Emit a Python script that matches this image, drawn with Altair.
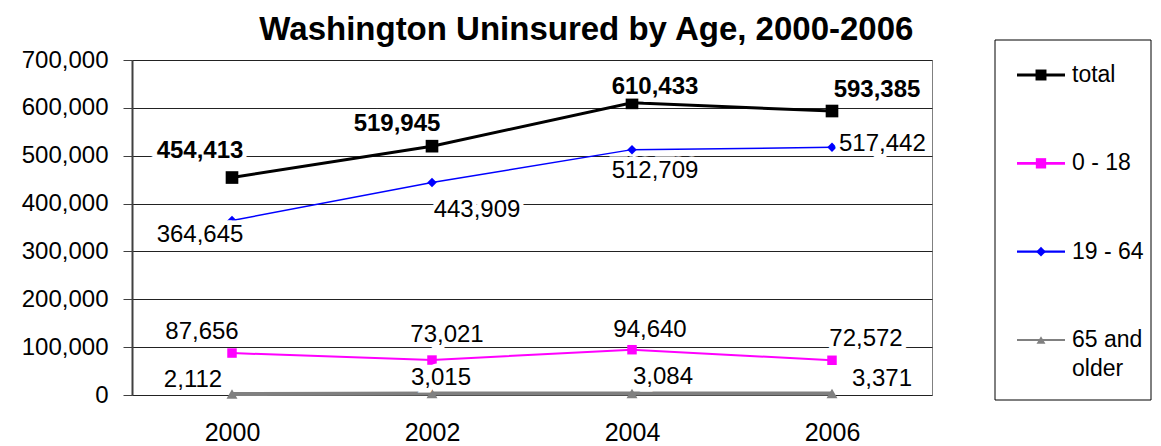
import altair as alt
import pandas as pd

years = [2000, 2002, 2004, 2006]
total = [454413, 519945, 610433, 593385]
age_0_18 = [87656, 73021, 94640, 72572]
age_19_64 = [364645, 443909, 512709, 517442]
age_65_up = [2112, 3015, 3084, 3371]

series_names = ["total", "0 - 18", "19 - 64", "65 and older"]
legend_labels = ["total", "0 - 18", "19 - 64", "65 and\nolder"]
series_values = [total, age_0_18, age_19_64, age_65_up]

colors = ["#000000", "#FF00FF", "#0000FF", "#808080"]
widths = [3, 2, 1.5, 4]
shapes = ["square", "square", "diamond", "triangle-up"]
sizes = [160, 90, 90, 120]
bold = ["bold", "normal", "normal", "normal"]

# label offsets (dx, dy) in pixels relative to each point, per series
label_offsets = [
    [(-32, -27), (-35, -22), (23, -16), (45, -21)],
    [(-30, -21), (15, -25), (18, -20), (34, -21)],
    [(-32, 15), (45, 27), (23, 21), (7, -3)],
    [(-39, -14), (9, -16), (31, -17), (50, -14)],
]

FONT = "Liberation Sans"

rows = []
for name, vals in zip(series_names, series_values):
    for y, v in zip(years, vals):
        rows.append({"series": name, "year": y, "value": v, "label": f"{v:,}"})
df = pd.DataFrame(rows)

x_enc = alt.X(
    "year:O",
    scale=alt.Scale(type="point", padding=0.5),
    axis=alt.Axis(title=None, labelAngle=0, labelFontSize=25, labelFont=FONT,
                  labelColor="#000", labelPadding=25, ticks=False, domain=False, grid=False),
)
y_enc = alt.Y(
    "value:Q",
    scale=alt.Scale(domain=[0, 700000], nice=False),
    axis=alt.Axis(title=None, values=[0, 100000, 200000, 300000, 400000, 500000, 600000, 700000],
                  format=",.0f", labelFontSize=24, labelFont=FONT, labelColor="#000",
                  tickSize=9, tickColor="#404040", labelPadding=15,
                  grid=True, gridColor="#222", gridWidth=1,
                  domainColor="#404040", domainWidth=2),
)

layers = []
for i, name in enumerate(series_names):
    sub = alt.Chart(df).transform_filter(alt.datum.series == name)
    layers.append(sub.mark_line(color=colors[i], strokeWidth=widths[i]).encode(x=x_enc, y=y_enc))
for i, name in enumerate(series_names):
    sub = alt.Chart(df).transform_filter(alt.datum.series == name)
    layers.append(sub.mark_point(filled=True, opacity=1, color=colors[i], shape=shapes[i],
                                 size=sizes[i]).encode(x=x_enc, y=y_enc))

for i, name in enumerate(series_names):
    for j, yr in enumerate(years):
        dx, dy = label_offsets[i][j]
        align = "left" if (i == 2 and j == 3) else "center"
        sub = alt.Chart(df).transform_filter(
            (alt.datum.series == name) & (alt.datum.year == yr))
        layers.append(sub.mark_text(dx=dx, dy=dy, align=align, baseline="middle", fontSize=24,
                                    font=FONT, fontWeight=bold[i], stroke="white",
                                    strokeWidth=9, strokeJoin="miter", fill="white")
                      .encode(x=x_enc, y=y_enc, text="label:N"))
        layers.append(sub.mark_text(dx=dx, dy=dy, align=align, baseline="middle", fontSize=24,
                                    font=FONT, fontWeight=bold[i], color="#000")
                      .encode(x=x_enc, y=y_enc, text="label:N"))

main = alt.layer(*layers)

# legend
leg_df = pd.DataFrame({"series": series_names, "label": legend_labels})
leg_y = alt.Y("series:N", sort=series_names,
              scale=alt.Scale(type="point", domain=series_names, range=[15, 280], padding=0),
              axis=None)
leg_color = alt.Color("series:N", scale=alt.Scale(domain=series_names, range=colors), legend=None)
leg_width = alt.StrokeWidth("series:N", scale=alt.Scale(domain=series_names, range=[3, 2, 1.5, 3]),
                            legend=None)
leg_shape = alt.Shape("series:N", scale=alt.Scale(domain=series_names, range=shapes), legend=None)
leg_size = alt.Size("series:N", scale=alt.Scale(domain=series_names, range=[120, 80, 80, 90]),
                    legend=None)

box = alt.Chart(pd.DataFrame({"a": [0]})).mark_rect(fill="white", stroke="#000", strokeWidth=1).encode(
    x=alt.value(863), x2=alt.value(1019), y=alt.value(-20), y2=alt.value(340))
leg_lines = alt.Chart(leg_df).mark_rule().encode(
    x=alt.value(885), x2=alt.value(933), y=leg_y, color=leg_color, strokeWidth=leg_width)
leg_pts = alt.Chart(leg_df).mark_point(filled=True, opacity=1).encode(
    x=alt.value(909), y=leg_y, color=leg_color, shape=leg_shape, size=leg_size)
leg_text = alt.Chart(leg_df).mark_text(align="left", baseline="middle", fontSize=23, font=FONT,
                                       color="#000", lineBreak="\n", lineHeight=29).encode(
    x=alt.value(940), y=leg_y, text="label:N")
legend = alt.layer(box, leg_lines, leg_pts, leg_text)

chart = alt.layer(main, legend).resolve_scale(y="independent", color="independent").properties(
    width=800, height=335,
    title=alt.TitleParams("Washington Uninsured by Age, 2000-2006", fontSize=33, font=FONT,
                          fontWeight="bold", anchor="middle", frame="bounds", offset=-7,
                          color="#000"),
    autosize=alt.AutoSizeParams(type="none"),
    padding={"left": 124, "top": 52, "right": 221, "bottom": 51},
).configure_view(stroke="#808080", strokeWidth=1)

chart.save("out.html", embed_options={"renderer": "svg", "actions": False})
